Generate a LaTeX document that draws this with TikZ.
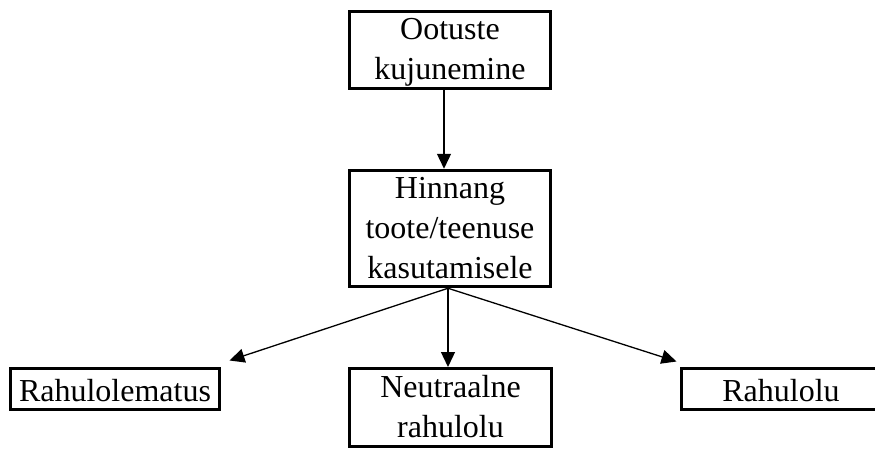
\documentclass[tikz,border=0pt]{standalone}
\usepackage{fontspec}
\setmainfont{Liberation Serif}
\usetikzlibrary{arrows.meta}
% fixed-height line strut so every text row has the same height and depth
\newcommand{\rowstrut}{\rule[-8.5pt]{0pt}{36.5pt}}
\begin{document}
\begin{tikzpicture}[x=1pt,y=1pt,
    box/.style={draw=black, line width=3pt, inner xsep=0pt, inner ysep=0pt,
      align=center, font=\fontsize{32}{40}\selectfont, text=black},
    onerow/.style={box, text height=33pt, text depth=8pt},
    conn/.style={draw=black, line width=1.3pt,
      -{Triangle[length=15pt,width=14pt]}}]
  \useasboundingbox (0,0) rectangle (875,-450);
  \clip (0,0) rectangle (875,-450);

  % boxes
  \node[box, minimum width=201pt, minimum height=77pt] (ootus) at (450,-50)
    {\rowstrut Ootuste\\\rowstrut kujunemine};
  \node[box, minimum width=201pt, minimum height=116pt] (hinn) at (450,-228.5)
    {\rowstrut Hinnang\\\rowstrut toote/teenuse\\\rowstrut kasutamisele};
  \node[onerow, minimum width=209pt, minimum height=41pt] (rahulm) at (115,-389)
    {Rahulolematus};
  \node[box, minimum width=202pt, minimum height=78pt] (neut) at (450.5,-407.5)
    {\rowstrut Neutraalne\\\rowstrut rahulolu};
  \node[onerow, minimum width=199pt, minimum height=41pt] (rahul) at (781,-389)
    {Rahulolu};

  % arrow end points
  \coordinate (fork) at ([xshift=-2pt]hinn.south);
  \coordinate (tipL) at ([shift={(8.5,6.5)}]rahulm.north east);
  \coordinate (tipR) at ([shift={(-3.5,5.5)}]rahul.north west);

  % connectors
  \draw[conn] ([xshift=-6pt]ootus.south) -- ([xshift=-6pt]hinn.north);
  \draw[conn] (fork) -- (tipL);
  \draw[conn] (fork) -- ([xshift=-2.5pt]neut.north);
  \draw[conn] (fork) -- (tipR);
\end{tikzpicture}
\end{document}
